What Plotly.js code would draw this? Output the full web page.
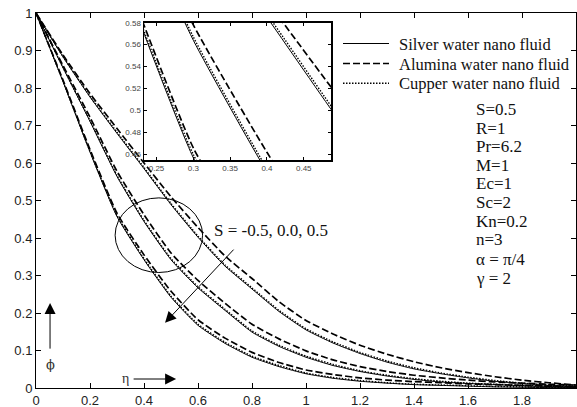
<!DOCTYPE html>
<html>
<head>
<meta charset="utf-8">
<script src="https://cdn.plot.ly/plotly-3.0.1.min.js"></script>
<style>html,body{margin:0;padding:0;background:#fff;}#chart{width:577px;height:407px;}</style>
</head>
<body>
<div id="chart"></div>
<script>
// eta grid
const eta = [0,0.1,0.2,0.3,0.4,0.5,0.6,0.7,0.8,0.9,1.0,1.1,1.2,1.3,1.4,1.5,1.6,1.7,1.8,1.9,2.0];

// S = -0.5
const aluminaSm05 = [1,0.888,0.785,0.692,0.600,0.510,0.428,0.352,0.292,0.230,0.180,0.144,0.114,0.090,0.070,0.054,0.041,0.030,0.021,0.014,0.008];
const cupperSm05  = [1,0.884,0.778,0.682,0.588,0.492,0.405,0.328,0.267,0.207,0.158,0.123,0.095,0.072,0.054,0.040,0.029,0.020,0.013,0.008,0.005];
const silverSm05  = [1,0.883,0.776,0.679,0.585,0.489,0.402,0.325,0.264,0.204,0.155,0.120,0.092,0.069,0.051,0.038,0.027,0.018,0.012,0.007,0.004];
// S = 0.0
const aluminaS0 = [1,0.860,0.722,0.578,0.462,0.360,0.287,0.226,0.170,0.131,0.099,0.075,0.057,0.044,0.034,0.027,0.021,0.016,0.013,0.010,0.008];
const cupperS0  = [1,0.855,0.713,0.567,0.447,0.345,0.270,0.210,0.152,0.114,0.085,0.063,0.046,0.034,0.025,0.018,0.013,0.010,0.007,0.005,0.003];
const silverS0  = [1,0.854,0.711,0.564,0.444,0.342,0.267,0.207,0.149,0.111,0.082,0.060,0.044,0.032,0.023,0.016,0.012,0.009,0.006,0.004,0.002];
// S = 0.5
const aluminaS05 = [1,0.821,0.636,0.466,0.355,0.258,0.182,0.133,0.095,0.068,0.048,0.036,0.027,0.021,0.017,0.014,0.011,0.009,0.007,0.005,0.004];
const cupperS05  = [1,0.818,0.631,0.460,0.345,0.245,0.170,0.122,0.085,0.060,0.040,0.028,0.020,0.014,0.010,0.008,0.006,0.004,0.003,0.002,0.001];
const silverS05  = [1,0.817,0.629,0.457,0.342,0.242,0.167,0.119,0.082,0.057,0.038,0.026,0.018,0.013,0.009,0.007,0.005,0.003,0.002,0.001,0.001];

const fluidNames = ["Silver water nano fluid","Alumina water nano fluid","Cupper water nano fluid"];
const paramLabels = ["S=0.5","R=1","Pr=6.2","M=1","Ec=1","Sc=2","Kn=0.2","n=3","\u03b1 = \u03c0/4","\u03b3 = 2"];
const sLabel = "S = -0.5, 0.0, 0.5";
const xTicks = [0,0.2,0.4,0.6,0.8,1,1.2,1.4,1.6,1.8,2];
const yTicks = [0,0.1,0.2,0.3,0.4,0.5,0.6,0.7,0.8,0.9,1];
const insetXTicks = [0.25,0.3,0.35,0.4,0.45];
const insetYTicks = [0.46,0.48,0.5,0.52,0.54,0.56,0.58];

const styles = {
  silver:  {color:'#000', width:1,   dash:'solid'},
  alumina: {color:'#000', width:1.7, dash:'7px,3px'},
  cupper:  {color:'#000', width:1.4, dash:'1.5px,1.5px'}
};
const series = [
  ['silver', silverSm05], ['alumina', aluminaSm05], ['cupper', cupperSm05],
  ['silver', silverS0], ['alumina', aluminaS0], ['cupper', cupperS0],
  ['silver', silverS05], ['alumina', aluminaS05], ['cupper', cupperS05]
];
const traces = [];
['', '2'].forEach(function(sfx){
  series.forEach(function(s){
    traces.push({
      x: eta, y: s[1], type:'scatter', mode:'lines',
      xaxis:'x'+sfx, yaxis:'y'+sfx, showlegend:false, hoverinfo:'skip',
      line:{color:styles[s[0]].color, width:styles[s[0]].width, dash:styles[s[0]].dash, shape:'spline', smoothing:0.5}
    });
  });
});

// helpers: pixel -> paper
const L=36, T=13, W=540, H=375;
function px(xp){return (xp-L)/W;}
function py(yp){return (T+H-yp)/H;}

const shapes = [
  {type:'circle', xref:'x', yref:'y', x0:0.293, x1:0.617, y0:0.308, y1:0.507, line:{color:'#000', width:1}},
];
const legendY = [43.5, 63.5, 83.3];
const legendKeys = ['silver','alumina','cupper'];
legendKeys.forEach(function(k,i){
  shapes.push({type:'line', xref:'paper', yref:'paper', x0:px(343), x1:px(389), y0:py(legendY[i]), y1:py(legendY[i]),
    line:{color:'#000', width:styles[k].width, dash:styles[k].dash}});
});

const annotations = [];
fluidNames.forEach(function(n,i){
  annotations.push({xref:'paper', yref:'paper', x:px(397), y:py(legendY[i]+0.5), xanchor:'left', yanchor:'middle',
    text:n, showarrow:false, font:{family:'Liberation Serif', size:16.5, color:'#111'}});
});
const paramY = [109.3,128.3,146.7,165,184,202.7,221.7,240,259.3,278.3];
paramLabels.forEach(function(t,i){
  annotations.push({xref:'paper', yref:'paper', x:px(474), y:py(paramY[i]), xanchor:'left', yanchor:'middle',
    text:t, showarrow:false, font:{family:'Liberation Serif', size:17, color:'#111'}});
});
annotations.push({xref:'paper', yref:'paper', x:px(212), y:py(230), xanchor:'left', yanchor:'middle',
  text:sLabel, showarrow:false, font:{family:'Liberation Serif', size:17, color:'#111'}});
// S arrow
annotations.push({xref:'x', yref:'y', axref:'x', ayref:'y', x:0.478, y:0.174, ax:0.737, ay:0.373,
  text:'', showarrow:true, arrowhead:2, arrowsize:2.2, arrowwidth:1, arrowcolor:'#000'});
// phi arrow
annotations.push({xref:'x', yref:'y', axref:'x', ayref:'y', x:0.052, y:0.227, ax:0.052, ay:0.101,
  text:'', showarrow:true, arrowhead:2, arrowsize:2.2, arrowwidth:1, arrowcolor:'#000'});
annotations.push({xref:'x', yref:'y', x:0.052, y:0.062, text:'\u03d5', showarrow:false,
  font:{family:'DejaVu Serif', size:13, color:'#333'}});
// eta arrow
annotations.push({xref:'x', yref:'y', axref:'x', ayref:'y', x:0.519, y:0.024, ax:0.356, ay:0.024,
  text:'', showarrow:true, arrowhead:2, arrowsize:2.2, arrowwidth:1, arrowcolor:'#000'});
annotations.push({xref:'x', yref:'y', x:0.33, y:0.026, text:'\u03b7', showarrow:false,
  font:{family:'Liberation Serif', size:14, color:'#333'}});

const axisCommon = {showgrid:false, zeroline:false, showline:true, linecolor:'#000', linewidth:1,
  ticks:'inside', ticklen:5, tickcolor:'#000', mirror:'ticks'};

const layout = {
  width:577, height:407,
  margin:{l:L, r:577-L-W, t:T, b:407-T-H, pad:0},
  paper_bgcolor:'#fff', plot_bgcolor:'#fff',
  showlegend:false,
  font:{family:'Liberation Sans', size:13, color:'#222'},
  xaxis:Object.assign({}, axisCommon, {domain:[0,1], range:[0,2], tickvals:xTicks, ticktext:xTicks.map(String), anchor:'y'}),
  yaxis:Object.assign({}, axisCommon, {domain:[0,1], range:[0,1], tickvals:yTicks, ticktext:yTicks.map(String), anchor:'x'}),
  xaxis2:Object.assign({}, axisCommon, {domain:[px(144), px(331)], range:[0.233,0.487], tickvals:insetXTicks,
    ticktext:insetXTicks.map(String), anchor:'y2', linewidth:1.5, ticklen:3, tickfont:{size:8, color:'#444'}}),
  yaxis2:Object.assign({}, axisCommon, {domain:[py(160), py(22.7)], range:[0.455,0.58], tickvals:insetYTicks,
    ticktext:insetYTicks.map(String), anchor:'x2', linewidth:1.5, ticklen:3, tickfont:{size:8, color:'#444'}}),
  shapes:shapes,
  annotations:annotations
};

Plotly.newPlot('chart', traces, layout, {staticPlot:true, displayModeBar:false});
</script>
</body>
</html>
